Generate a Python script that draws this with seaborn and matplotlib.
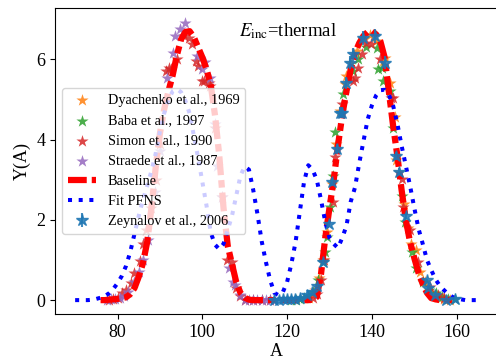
import matplotlib
matplotlib.use("Agg")
import matplotlib.pyplot as plt
import seaborn as sns
import pandas as pd

# ---------------- data ----------------
baseline_A = list(range(76, 160))
baseline_Y = [0.0, 0.0, 0.01, 0.02, 0.03, 0.05, 0.07, 0.15, 0.3, 0.58,          # 76-85
              0.92, 1.45, 2.3, 3.3, 4.15, 4.75, 5.2, 5.6, 6.1, 6.5,             # 86-95
              6.68, 6.7, 6.55, 6.3, 6.05, 5.75, 5.35, 4.6, 3.6, 2.3,            # 96-105
              1.35, 0.9, 0.45, 0.18, 0.06, 0.01, 0.0, 0.0, 0.0, 0.0,            # 106-115
              0.0, 0.0, 0.0, 0.0, 0.0, 0.0, 0.0, 0.0, 0.0, 0.0,                 # 116-125
              0.01, 0.08, 0.65, 1.55, 2.3, 3.0, 3.85, 4.6, 5.2, 5.75,           # 126-135
              6.15, 6.4, 6.58, 6.68, 6.7, 6.62, 6.45, 6.05, 5.2, 4.35,          # 136-145
              3.6, 2.75, 2.0, 1.45, 1.05, 0.68, 0.4, 0.18, 0.05, 0.02,          # 146-155
              0.0, 0.0, 0.0, 0.0]                                               # 156-159

pfns_A = list(range(70, 166))
pfns_Y = [0.0, 0.0, 0.0, 0.0, 0.01, 0.03, 0.06, 0.1, 0.17, 0.28,               # 70-79
          0.42, 0.6, 0.85, 1.2, 1.65, 2.1, 2.5, 2.85, 3.22, 3.65,              # 80-89
          4.2, 4.65, 5.0, 5.2, 5.26, 5.18, 4.97, 4.65, 4.1, 3.55,              # 90-99
          2.95, 2.35, 1.68, 1.38, 1.27, 1.4, 1.75, 2.1, 2.6, 3.1,              # 100-109
          3.33, 3.25, 2.75, 2.15, 1.47, 0.95, 0.5, 0.18, 0.12, 0.2,            # 110-119
          0.45, 0.9, 1.45, 2.2, 2.95, 3.36, 3.25, 3.0, 2.5, 1.95,              # 120-129
          1.55, 1.4, 1.3, 1.55, 1.85, 2.45, 2.8, 3.4, 3.95, 4.5,               # 130-139
          4.85, 5.1, 5.23, 5.24, 5.12, 4.85, 4.4, 3.85, 3.35, 2.85,            # 140-149
          2.3, 1.78, 1.4, 1.0, 0.75, 0.52, 0.36, 0.25, 0.15, 0.08,             # 150-159
          0.04, 0.02, 0.0, 0.0, 0.0, 0.0]                                      # 160-165

dyachenko_A = [125.2, 126.5, 127.5, 128.5, 129.5, 130.5, 131.5, 132.5, 133.6, 134.0,
               135.0, 136.5, 138.0, 139.5, 141.0, 142.7, 143.1, 144.2, 145.4, 145.8,
               146.5, 147.5, 148.5, 149.3, 150.5, 151.3, 152.5, 154.0, 155.5, 157.0, 158.5]
dyachenko_Y = [0.05, 0.25, 0.55, 1.0, 1.7, 2.9, 3.9, 4.7, 5.38, 5.58,
               5.9, 6.2, 6.5, 6.6, 6.45, 5.96, 6.04, 5.42, 4.55, 3.5,
               3.2, 2.4, 1.8, 1.41, 1.24, 0.7, 0.45, 0.2, 0.08, 0.03, 0.01]

baba_A = [121.0, 122.0, 123.0, 124.0, 125.0, 126.0, 127.4, 128.5, 128.9, 129.3,
          130.1, 130.9, 131.3, 133.3, 135.6, 136.8, 138.5, 141.1, 141.5, 142.3,
          142.7, 144.2, 145.0, 147.0, 147.8, 149.5, 150.5, 152.0, 153.5, 155.2,
          156.5, 158.0, 159.5]
baba_Y = [0.0, 0.0, 0.02, 0.05, 0.1, 0.2, 0.5, 0.95, 1.2, 1.57,
          2.32, 3.1, 4.18, 5.13, 5.7, 6.0, 6.3, 6.29, 5.75, 5.79,
          5.46, 5.21, 4.28, 2.6, 1.94, 1.2, 0.8, 0.45, 0.25, 0.17,
          0.08, 0.04, 0.02]

simon_A = [78.0, 79.0, 80.0, 81.1, 82.0, 83.1, 83.8, 85.3, 86.1, 86.7,
           88.0, 89.0, 90.0, 91.5, 92.1, 92.6, 94.0, 95.6, 96.8, 97.6,
           98.4, 99.1, 99.9, 100.3, 101.5, 101.9, 103.0, 104.6, 105.8, 107.0,
           108.0, 109.0, 110.0, 112.0, 114.0, 116.0,
           126.0, 127.0, 128.0, 128.8, 130.9, 131.3, 132.9, 135.6, 136.0, 136.8,
           137.6, 138.7, 139.9, 141.9, 144.6, 145.0, 147.0, 147.4, 149.0, 150.9,
           153.6, 155.5, 157.0]
simon_Y = [0.0, 0.02, 0.05, 0.17, 0.25, 0.42, 0.67, 0.98, 1.41, 1.74,
           2.3, 3.0, 3.9, 5.72, 5.79, 5.77, 6.0, 6.57, 6.53, 6.37,
           5.96, 5.83, 5.46, 5.46, 5.42, 5.33, 4.3, 2.56, 1.0, 0.95,
           0.3, 0.1, 0.0, 0.0, 0.0, 0.0,
           0.05, 0.15, 0.5, 1.0, 2.44, 3.56, 4.88, 5.46, 5.54, 5.79,
           6.12, 6.41, 6.37, 6.0, 5.04, 5.04, 3.02, 2.32, 1.74, 0.95,
           0.33, 0.12, 0.05]

straede_A = [77.5, 78.5, 79.5, 80.5, 81.5, 82.5, 84.0, 85.0, 86.1, 87.2,
             88.9, 90.1, 91.7, 93.2, 93.6, 94.8, 96.0, 98.7, 99.9, 100.7,
             101.9, 103.1, 103.5, 104.6, 106.2, 107.2, 107.8, 108.9, 110.1, 111.0,
             112.0, 113.0, 114.0, 115.0, 116.0, 117.0]
straede_Y = [0.0, 0.02, 0.03, 0.05, 0.1, 0.2, 0.45, 0.7, 1.0, 1.49,
             2.7, 3.72, 5.54, 6.16, 6.57, 6.75, 6.9, 6.08, 5.75, 5.92,
             5.54, 4.38, 3.35, 2.56, 0.79, 0.45, 0.37, 0.12, 0.0, 0.0,
             0.0, 0.0, 0.0, 0.0, 0.0, 0.0]

zeynalov_A = [117.0, 118.0, 119.1, 120.0, 121.0, 121.9, 123.0, 124.6, 125.8, 127.0,
              128.5, 129.9, 130.7, 131.7, 132.5, 132.9, 134.0, 134.8, 135.6, 138.0,
              140.7, 143.1, 145.8, 146.5, 148.0, 152.9, 153.3, 154.8, 157.6, 159.5]
zeynalov_Y = [0.0, 0.0, 0.04, 0.03, 0.03, 0.04, 0.06, 0.12, 0.21, 0.35,
              0.95, 1.9, 2.94, 3.76, 4.67, 4.67, 5.42, 5.91, 6.12, 6.53,
              6.58, 5.91, 3.6, 3.2, 2.1, 0.5, 0.3, 0.12, 0.0, 0.04]
zeynalov_err = [0.01, 0.01, 0.01, 0.01, 0.01, 0.01, 0.01, 0.02, 0.02, 0.03,
                0.05, 0.08, 0.1, 0.12, 0.14, 0.14, 0.15, 0.16, 0.16, 0.17,
                0.17, 0.16, 0.1, 0.09, 0.07, 0.03, 0.02, 0.02, 0.01, 0.01]

# ---------------- style ----------------
plt.rcParams['font.family'] = ['serif']
plt.rcParams['font.serif'] = ['Liberation Serif', 'DejaVu Serif']
plt.rcParams['mathtext.fontset'] = 'stix'

fig = plt.figure(figsize=(4.96, 3.61), dpi=100)
ax = fig.add_axes([55 / 496, 47 / 361, 443 / 496, 305.7 / 361])

star_kw = dict(marker='*', s=85, linewidth=0, alpha=0.85, ax=ax, legend=False)
sns.scatterplot(x=dyachenko_A, y=dyachenko_Y, color='C1', label='Dyachenko et al., 1969', **star_kw)
sns.scatterplot(x=baba_A, y=baba_Y, color='C2', label='Baba et al., 1997', **star_kw)
sns.scatterplot(x=simon_A, y=simon_Y, color='C3', label='Simon et al., 1990', **star_kw)
sns.scatterplot(x=straede_A, y=straede_Y, color='C4', label='Straede et al., 1987', **star_kw)

base_df = pd.DataFrame({'A': baseline_A, 'Y': baseline_Y})
pfns_df = pd.DataFrame({'A': pfns_A, 'Y': pfns_Y})
sns.lineplot(data=base_df, x='A', y='Y', ax=ax, color='red', linewidth=4.5,
             linestyle=(0, (3.0, 0.8, 1.2, 0.8)), label='Baseline', legend=False)
sns.lineplot(data=pfns_df, x='A', y='Y', ax=ax, color='blue', linewidth=2.9,
             linestyle=(0, (1, 1.65)), label='Fit PFNS', legend=False)

ax.errorbar(zeynalov_A, zeynalov_Y, yerr=zeynalov_err, fmt='*', color='C0',
            markersize=9, alpha=0.85, label='Zeynalov et al., 2006')

ax.set_xlim(65.25, 169.75)
ax.set_ylim(-0.346, 7.27)
ax.set_xticks([80, 100, 120, 140, 160])
ax.set_yticks([0, 2, 4, 6])
ax.tick_params(labelsize=13)
ax.set_xlabel('A', fontsize=13, labelpad=2)
ax.set_ylabel('Y(A)', fontsize=13, labelpad=4)

ax.text(0.526, 0.925, r'$E_{\rm inc}$=thermal', transform=ax.transAxes,
        ha='center', va='center', fontsize=13.5)

ax.legend(loc='center left', fontsize=10.3)

fig.savefig('out.png', dpi=100)
